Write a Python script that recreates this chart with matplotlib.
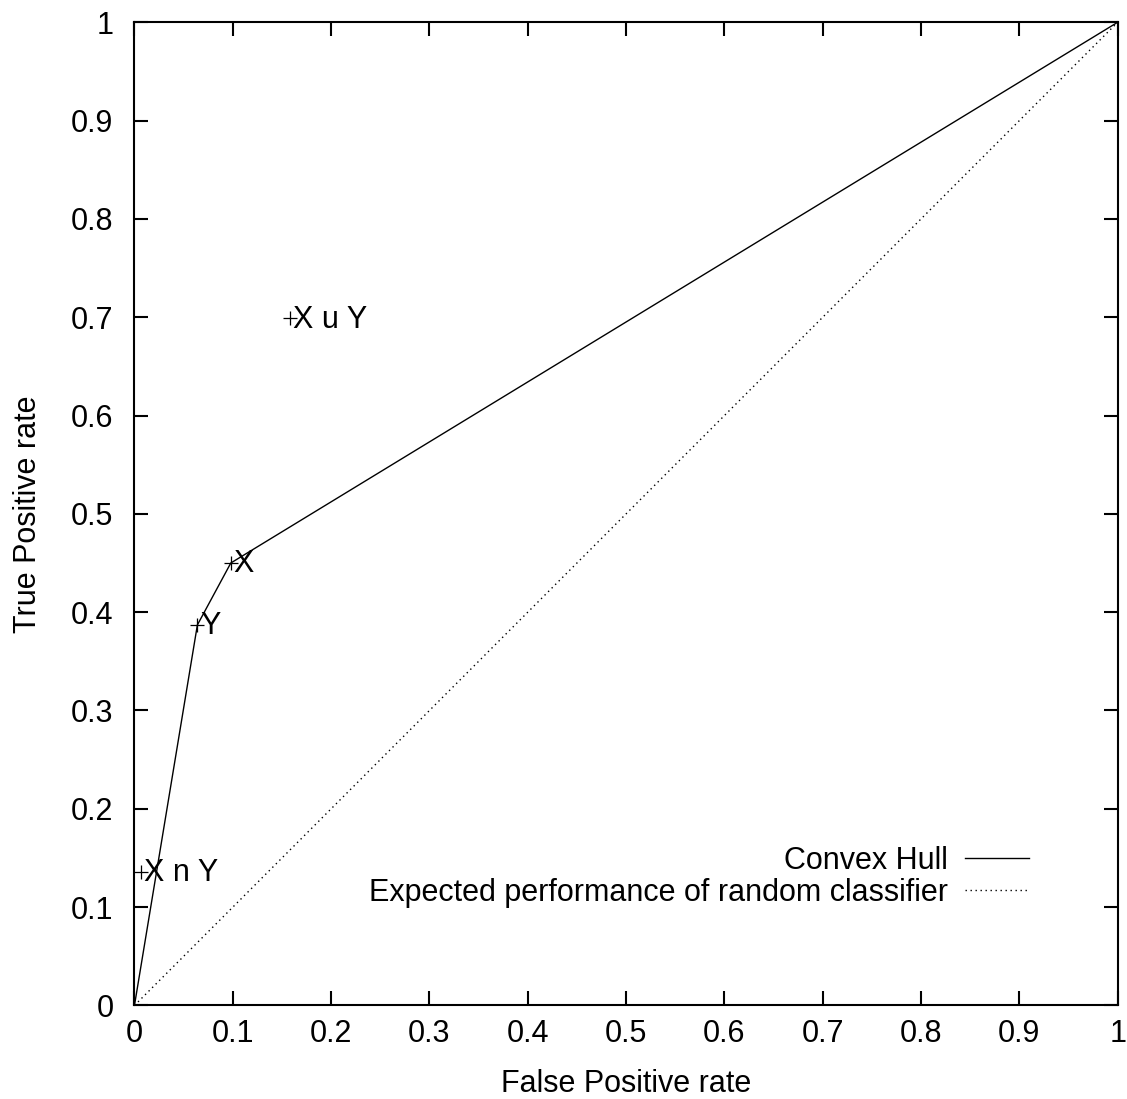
import matplotlib
matplotlib.use("Agg")
import matplotlib.pyplot as plt

# classifier points in ROC space
point_labels = ["X n Y", "Y", "X", "X u Y"]
point_fpr = [0.007, 0.064, 0.098, 0.158]
point_tpr = [0.136, 0.387, 0.450, 0.699]

# convex hull vertices
hull_fpr = [0.0, 0.064, 0.098, 1.0]
hull_tpr = [0.0, 0.387, 0.450, 1.0]

# random classifier diagonal
rand_fpr = [0.0, 1.0]
rand_tpr = [0.0, 1.0]

ticks = [i / 10 for i in range(11)]
tick_labels = ["0", "0.1", "0.2", "0.3", "0.4", "0.5", "0.6", "0.7", "0.8", "0.9", "1"]

plt.rcParams["font.family"] = ["Liberation Sans", "DejaVu Sans"]
plt.rcParams["font.size"] = 22

fig = plt.figure(figsize=(11.27, 10.99), dpi=100)
ax = fig.add_axes([0.1193, 0.0851, 0.8725, 0.8947])

ax.plot(hull_fpr, hull_tpr, color="black", lw=1.0, label="Convex Hull")
ax.plot(rand_fpr, rand_tpr, color="black", lw=1.0, dashes=(1.0, 2.6),
        label="Expected performance of random classifier")
ax.plot(point_fpr, point_tpr, "+", color="black", ms=10, mew=0.9,
        linestyle="none")
for lbl, x, y in zip(point_labels, point_fpr, point_tpr):
    ax.annotate(lbl, (x, y), xytext=(2, -1), textcoords="offset points",
                ha="left", va="center", fontsize=22)

ax.set_xlim(0, 1)
ax.set_ylim(0, 1)
ax.set_xticks(ticks)
ax.set_xticklabels(tick_labels)
ax.set_yticks(ticks)
ax.set_yticklabels(tick_labels)
ax.tick_params(direction="in", length=10, width=1.5, top=True, right=True)
ax.tick_params(axis="x", pad=10)
ax.tick_params(axis="y", pad=15)
for sp in ax.spines.values():
    sp.set_linewidth(1.5)

ax.set_xlabel("False Positive rate", labelpad=14)
ax.set_ylabel("True Positive rate", labelpad=20)

ax.legend(loc="lower right", bbox_to_anchor=(0.922, 0.087), frameon=False,
          markerfirst=False, handlelength=2.1, handletextpad=0.55,
          labelspacing=0.07, borderaxespad=0, fontsize=22)

fig.savefig("out.png", dpi=100)
